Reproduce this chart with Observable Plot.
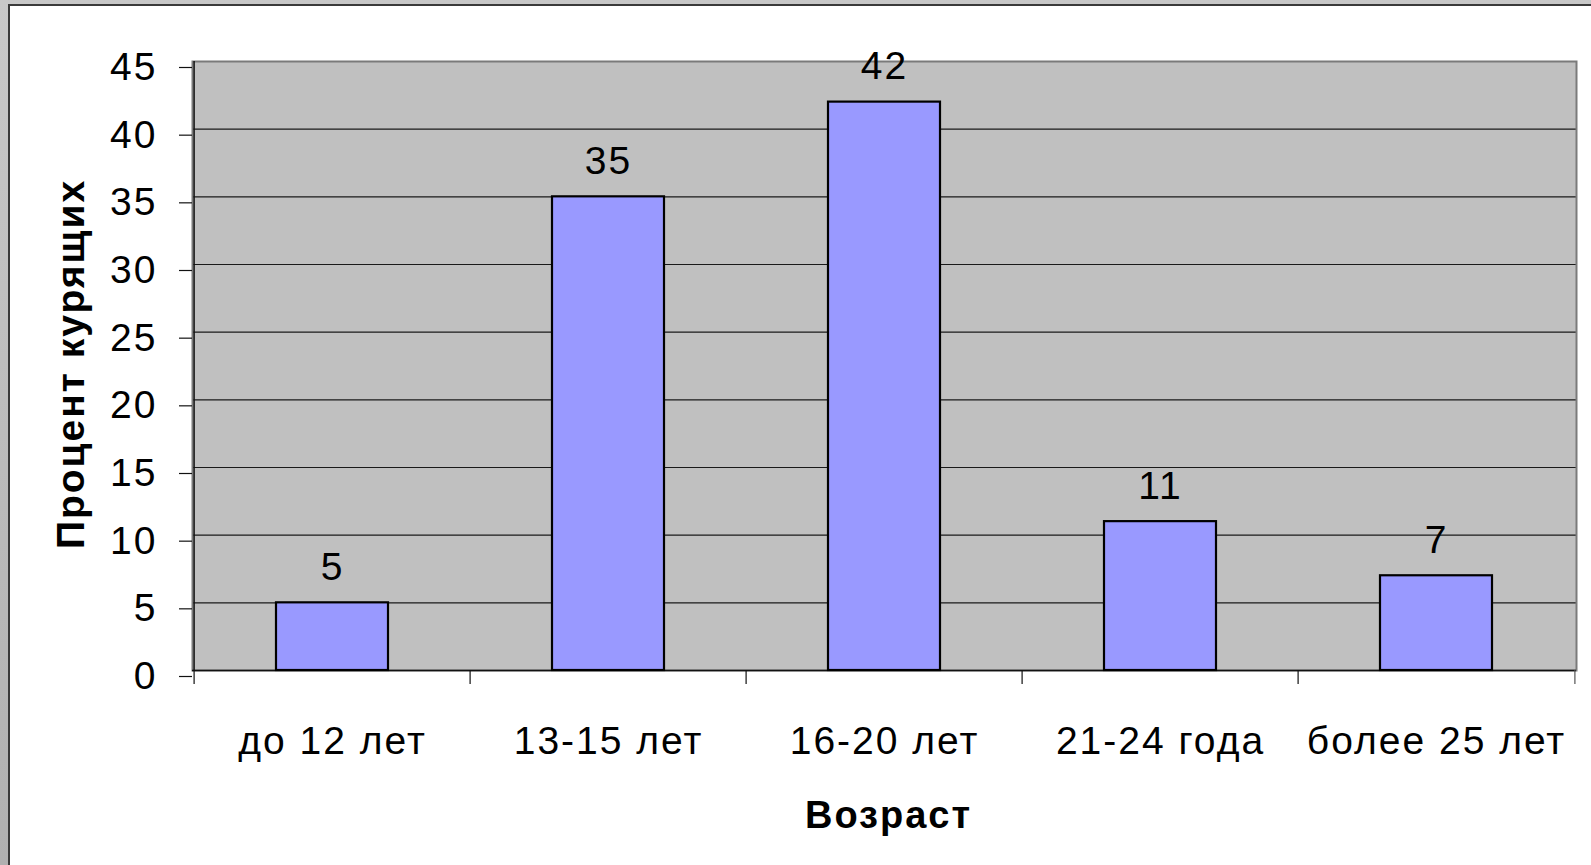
<!DOCTYPE html>
<html>
<head>
<meta charset="utf-8">
<script src="https://cdn.jsdelivr.net/npm/d3@7"></script>
<script src="https://cdn.jsdelivr.net/npm/@observablehq/plot@0.6"></script>
<style>
  html, body { margin: 0; padding: 0; background: #b4b4b4; }
  #wrap { position: absolute; left: 0; top: 0; width: 1591px; height: 865px; background: linear-gradient(#c8c8c8, #b0b0b0); overflow: hidden; }
  #chart { position: absolute; left: 8px; top: 4px; width: 1583px; height: 861px; background: #fff; border-left: 2px solid #3a3a3a; border-top: 2px solid #3a3a3a; }
  #chart svg { display: block; max-width: none; }
</style>
</head>
<body>
<div id="wrap"><div id="chart"></div></div>
<script>
const categories = ["до 12 лет", "13-15 лет", "16-20 лет", "21-24 года", "более 25 лет"];
const values = [5, 35, 42, 11, 7];
const yTicks = [0, 5, 10, 15, 20, 25, 30, 35, 40, 45];
const yTitle = "Процент курящих";
const xTitle = "Возраст";

const data = categories.map((c, i) => ({ category: c, value: values[i] }));

const width = 1581, height = 859;
const marginLeft = 182, marginRight = 15, marginTop = 55, marginBottom = 195;
const bw = (width - marginLeft - marginRight) / categories.length;
const yDomain = [yTicks[0], yTicks[yTicks.length - 1]];

const chart = Plot.plot({
  width, height, marginLeft, marginRight, marginTop, marginBottom,
  style: "font-family: 'Liberation Sans', Arial, sans-serif; font-size: 39px; letter-spacing: 2px; background: white; overflow: visible;",
  x: { domain: categories, padding: 0, label: null },
  y: { domain: yDomain, ticks: yTicks, label: null },
  marks: [
    Plot.frame({ fill: "#c0c0c0" }),
    Plot.gridY(yTicks.slice(1, -1), { stroke: "#1a1a1a", strokeOpacity: 1, strokeWidth: 1.2 }),
    Plot.frame({ stroke: "#7a7a7a", strokeWidth: 2 }),
    Plot.ruleY([yDomain[0]], { stroke: "#111", strokeWidth: 1.5 }),
    Plot.ruleX([categories[0]], { dx: -bw / 2, y1: yDomain[0], y2: yDomain[1], stroke: "#111", strokeWidth: 1.5 }),
    Plot.axisY({ ticks: yTicks, tickSize: 13, tickPadding: 22, dy: 6, stroke: "#111", fill: "#000", strokeWidth: 1.2, label: null }),
    Plot.axisX({ ticks: categories, tickSize: 14, tickFormat: () => "", dx: -bw / 2, stroke: "#111", strokeWidth: 1.2, label: null }),
    Plot.axisX({ ticks: [categories[categories.length - 1]], tickSize: 14, tickFormat: () => "", dx: bw / 2, stroke: "#555", strokeWidth: 1.2, label: null }),
    Plot.axisX({ ticks: categories, tickSize: 0, tickPadding: 56, fill: "#000", label: null }),
    Plot.barY(data, { x: "category", y: "value", fill: "#9999ff", stroke: "#000", strokeWidth: 2.2, insetLeft: 82, insetRight: 82 }),
    Plot.text(data, { x: "category", y: "value", text: d => String(d.value), lineAnchor: "bottom", dy: -23, fill: "#000" }),
    Plot.text([yTitle], { frameAnchor: "left", textAnchor: "middle", rotate: -90, lineAnchor: "bottom", dx: -109, dy: -2, fontWeight: "bold", fontSize: 39, fill: "#000", style: "letter-spacing: 2.8px" }),
    Plot.text([xTitle], { frameAnchor: "bottom", textAnchor: "middle", lineAnchor: "bottom", dx: 4, dy: 157, fontWeight: "bold", fontSize: 38, fill: "#000" })
  ]
});
document.getElementById("chart").appendChild(chart);
</script>
</body>
</html>
